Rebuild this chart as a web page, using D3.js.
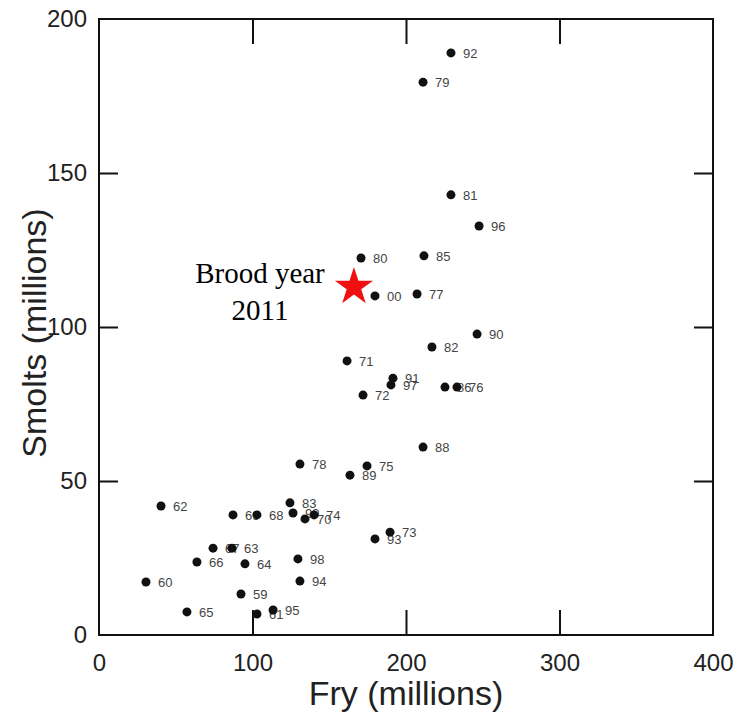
<!DOCTYPE html>
<html>
<head>
<meta charset="utf-8">
<script src="https://cdn.jsdelivr.net/npm/d3@7"></script>
<style>
  body { margin: 0; background: #fff; }
  svg { display: block; font-family: "Liberation Sans", Arial, sans-serif; }
</style>
</head>
<body>
<svg width="736" height="717"></svg>
<script>
// brood years (labels), fry and smolt numbers in millions
var years  = ["92","79","81","96","80","85","00","77","90","82","71","91","97","72","86","76","88","78","75","89",
              "62","69","68","83","99","70","74","67","63","66","64","98","60","94","59","65","61","95","73","93"];
var fry    = [229.3,211.1,229.3,247.6,170.7,211.7,179.8,207.2,246.3,216.9,161.6,191.5,190.2,172.0,225.4,233.2,211.1,130.9,174.6,163.5,
              40.4,87.3,102.9,124.4,126.4,134.2,140.1,74.3,86.6,63.8,95.1,129.6,30.6,130.9,92.5,57.3,102.9,113.4,189.6,179.8];
var smolts = [189.0,179.5,142.9,132.8,122.4,123.1,110.1,110.7,97.7,93.5,89.0,83.4,81.2,77.9,80.5,80.5,61.0,55.5,54.9,51.9,
              41.9,39.0,39.0,42.9,39.6,37.7,39.0,28.2,28.2,23.7,23.1,24.7,17.2,17.5,13.3,7.5,6.8,8.1,33.4,31.2];
var starPoint = {fry: 166.1, smolts: 113.0};
var starLabel = ["Brood year", "2011"];
var xTicks = [0, 100, 200, 300, 400];
var yTicks = [0, 50, 100, 150, 200];

var data = years.map(function(y, i) { return {year: y, fry: fry[i], smolts: smolts[i]}; });

const svg = d3.select("svg"),
  margin = {top: 19, left: 99},
  width = 614,
  height = 616,
  x = d3.scaleLinear().domain([0, 400]).range([0, width]),
  y = d3.scaleLinear().domain([0, 200]).range([height, 0]),
  g = svg.append("g").attr("transform", `translate(${margin.left},${margin.top})`);

// inward ticks on all four sides
var inner = [1, 2, 3];
g.append("g").attr("transform", `translate(0,${height})`)
  .call(d3.axisBottom(x).tickValues(inner.map(d => xTicks[d])).tickSize(-25).tickFormat(""));
g.append("g")
  .call(d3.axisTop(x).tickValues(inner.map(d => xTicks[d])).tickSize(-25).tickFormat(""));
g.append("g")
  .call(d3.axisLeft(y).tickValues(inner.map(d => yTicks[d])).tickSize(-19).tickFormat(""));
g.append("g").attr("transform", `translate(${width},0)`)
  .call(d3.axisRight(y).tickValues(inner.map(d => yTicks[d])).tickSize(-19).tickFormat(""));
g.selectAll(".domain").remove();
g.selectAll(".tick line").attr("stroke", "#111").attr("stroke-width", 2);

// tick labels
var xl = g.append("g").attr("transform", `translate(0,${height})`)
  .call(d3.axisBottom(x).tickValues(xTicks).tickSize(0).tickPadding(19));
var yl = g.append("g")
  .call(d3.axisLeft(y).tickValues(yTicks).tickSize(0).tickPadding(12));
[xl, yl].forEach(function(a) {
  a.select(".domain").remove();
  a.selectAll("text").attr("font-size", 24).attr("fill", "#222")
    .attr("font-family", "'Liberation Sans', Arial, sans-serif");
});

// frame
g.append("rect").attr("width", width).attr("height", height)
  .attr("fill", "none").attr("stroke", "#111").attr("stroke-width", 2);

// year labels first, dots drawn on top (they hide some labels like in the original)
g.selectAll(".lab").data(data).enter().append("text")
  .attr("class", "lab")
  .attr("x", d => x(d.fry) + 12)
  .attr("y", d => y(d.smolts) + 5)
  .attr("font-size", 13)
  .attr("fill", "#444")
  .text(d => d.year);

g.selectAll(".dot").data(data).enter().append("circle")
  .attr("class", "dot")
  .attr("cx", d => x(d.fry))
  .attr("cy", d => y(d.smolts))
  .attr("r", 4.5)
  .attr("fill", "#111");

// brood year 2011 star
g.append("path")
  .attr("d", d3.symbol(d3.symbolStar, 450)())
  .attr("transform", `translate(${x(starPoint.fry)},${y(starPoint.smolts)})`)
  .attr("fill", "#f01010");

g.selectAll(".star-lab").data(starLabel).enter().append("text")
  .attr("class", "star-lab")
  .attr("x", x(starPoint.fry) - 94)
  .attr("y", (d, i) => y(starPoint.smolts) - 4 + i * 37)
  .attr("text-anchor", "middle")
  .attr("font-family", "'Liberation Serif', 'Times New Roman', serif")
  .attr("font-size", 29)
  .attr("fill", "#000")
  .text(d => d);

// axis titles
svg.append("text")
  .attr("x", margin.left + width / 2)
  .attr("y", 705)
  .attr("text-anchor", "middle")
  .attr("font-size", 34)
  .attr("fill", "#222")
  .text("Fry (millions)");

svg.append("text")
  .attr("transform", `translate(46,${margin.top + height / 2 + 6}) rotate(-90)`)
  .attr("text-anchor", "middle")
  .attr("font-size", 34)
  .attr("fill", "#222")
  .text("Smolts (millions)");
</script>
</body>
</html>
